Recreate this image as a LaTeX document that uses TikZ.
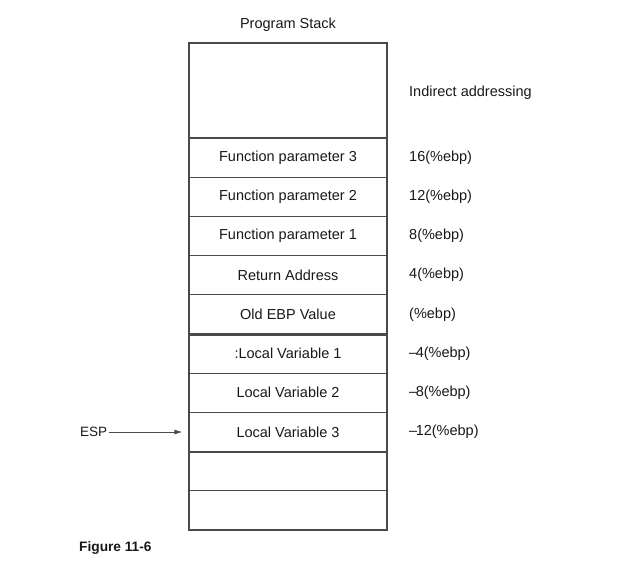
\documentclass[tikz,border=0pt]{standalone}
\usepackage{fontspec}
\setmainfont{Liberation Sans}
\usetikzlibrary{arrows.meta}
\definecolor{ink}{HTML}{1A1718}
\definecolor{rule}{HTML}{4A4A4A}
\begin{document}
\begin{tikzpicture}[x=1pt,y=-1pt,
  cell/.style={draw=rule,line width=1.1pt,minimum width=198pt,minimum height=39.2pt,inner sep=0pt,
    font=\fontsize{14.5}{17}\selectfont,text=ink,anchor=center},
  addr/.style={anchor=west,inner sep=0pt,font=\fontsize{14.5}{17}\selectfont,text=ink},
  thick rule/.style={draw=rule,line width=2pt}]
\useasboundingbox (0,0) rectangle (617,582);
\node[cell,minimum height=95pt] (top) at (288,90.5) {};
\node[cell] (fp3) at (288,157.6) {Function parameter 3};
\node[cell] (fp2) at (288,196.8) {Function parameter 2};
\node[cell] (fp1) at (288,236.0) {Function parameter 1};
\node[cell] (ra)  at (288,275.2) {Return Address};
\node[cell] (ebp) at (288,314.4) {Old EBP Value};
\node[cell] (lv1) at (288,353.6) {:Local Variable 1};
\node[cell] (lv2) at (288,392.8) {Local Variable 2};
\node[cell] (lv3) at (288,432.0) {Local Variable 3};
\node[cell] (e1)  at (288,471.2) {};
\node[cell] (e2)  at (288,510.4) {};
\draw[thick rule] (ebp.south west) -- (ebp.south east);
\draw[thick rule] (lv3.south west) -- (lv3.south east);
\node[inner sep=0pt,font=\fontsize{14.5}{17}\selectfont,text=ink] (title) at (288,25) {Program Stack};
\node[addr] (a0) at (409,93) {Indirect addressing};
\node[addr] (a1) at (409,157.6) {16(\%ebp)};
\node[addr] (a2) at (409,196.8) {12(\%ebp)};
\node[addr] (a3) at (409,236.0) {8(\%ebp)};
\node[addr] (a4) at (409,275.2) {4(\%ebp)};
\node[addr] (a5) at (409,314.4) {(\%ebp)};
\node[addr] (a6) at (409,353.6) {--\kern-1.5pt4(\%ebp)};
\node[addr] (a7) at (409,392.8) {--\kern-1.5pt8(\%ebp)};
\node[addr] (a8) at (409,432.0) {--\kern-1.5pt12(\%ebp)};
\node[addr,font=\fontsize{13.5}{17}\selectfont] (esp) at (80,432.0) {ESP};
\coordinate (tip) at ([xshift=-6pt]lv3.west);
\draw[rule,line width=1pt,-{Latex[length=8pt,width=5pt]}] ([xshift=2pt]esp.east) -- (tip);
\node[addr,font=\bfseries\fontsize{13.7}{17}\selectfont] (fig) at (79,548) {Figure 11-6};
\end{tikzpicture}
\end{document}
